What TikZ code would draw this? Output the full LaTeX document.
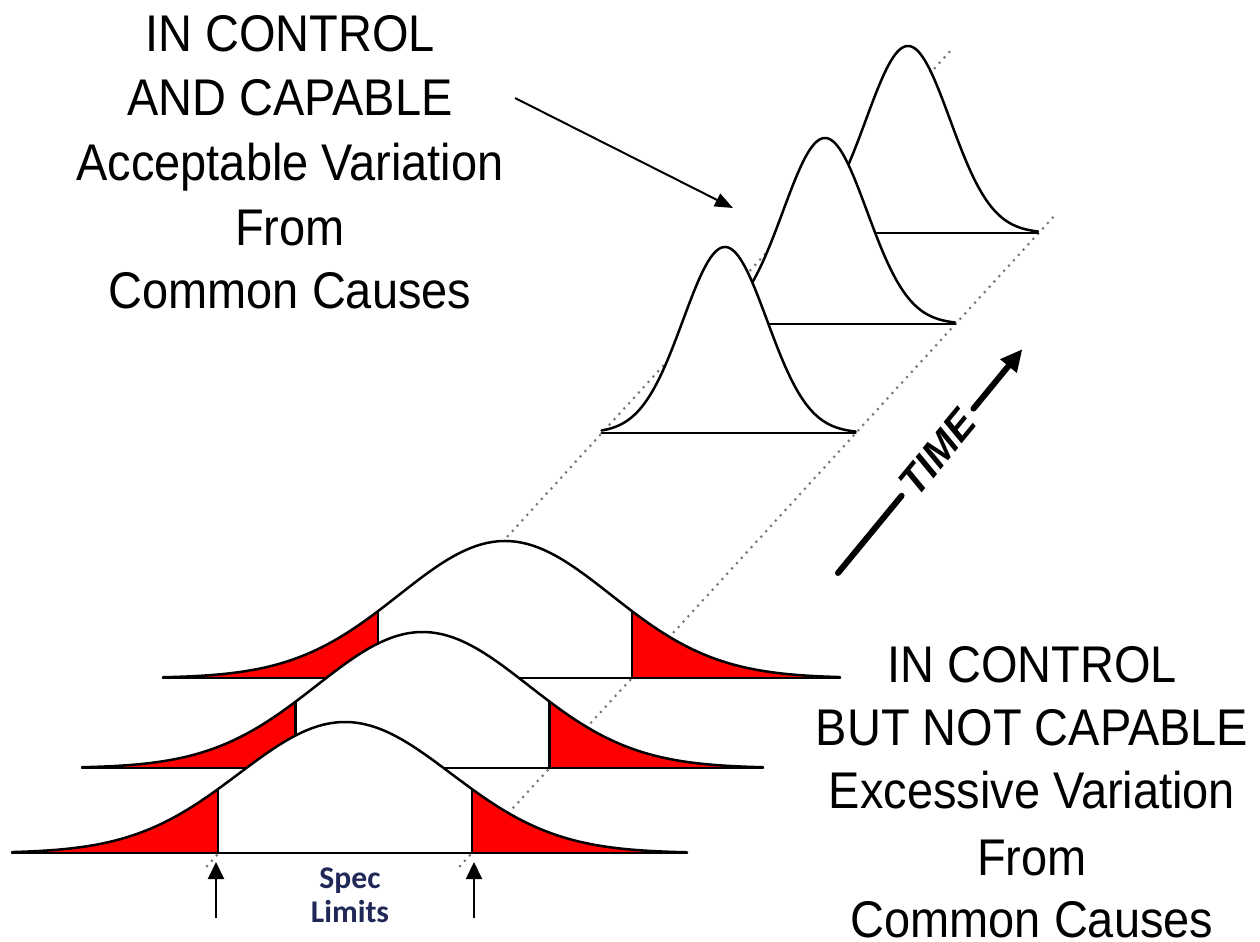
\documentclass[tikz,border=0pt]{standalone}
\usepackage{fontspec}
\setmainfont{Liberation Sans}
\newfontfamily\capfont[FakeStretch=0.91]{Liberation Sans}
\newfontfamily\specfont{Carlito}
\usetikzlibrary{arrows.meta}

\definecolor{tailred}{RGB}{255,0,0}
\definecolor{specblue}{RGB}{32,40,88}
\definecolor{dotgray}{RGB}{120,120,120}

% Gaussian hump: t = position, c = centre, b = baseline, h = height, s = sigma
\tikzset{declare function={bell(\t,\c,\b,\h,\s)=\b-\h*exp(-0.5*((\t-\c)/\s)^2);}}

% white body of a hump (hides what lies behind it)
\newcommand\humpbody[6]{%
  \fill[white] (#5,#2) -- plot[samples=120,domain=#5:#6] (\x,{bell(\x,#1,#2,#3,#4)}) -- (#6,#2) -- cycle;}
% red tails outside the spec limits #7 and #8
\newcommand\humptails[8]{%
  \fill[tailred] (#5,#2) -- plot[samples=80,domain=#5:#7] (\x,{bell(\x,#1,#2,#3,#4)}) -- (#7,#2) -- cycle;
  \fill[tailred] (#8,#2) -- plot[samples=80,domain=#8:#6] (\x,{bell(\x,#1,#2,#3,#4)}) -- (#6,#2) -- cycle;
  \draw[outline] (#7,#2) -- (#7,{bell(#7,#1,#2,#3,#4)});
  \draw[outline] (#8,#2) -- (#8,{bell(#8,#1,#2,#3,#4)});}
% outline and baseline of a hump
\newcommand\humpline[6]{%
  \draw[outline] plot[samples=120,domain=#5:#6] (\x,{bell(\x,#1,#2,#3,#4)});
  \draw[outline] (#5,#2) -- (#6,#2);}

\begin{document}
\begin{tikzpicture}[x=0.5pt,y=-0.5pt,
  outline/.style={line width=1.25pt,line join=round,line cap=round},
  guide/.style={draw=dotgray,line width=1.5pt,line cap=round,dash pattern=on 0pt off 3.6pt},
  caption/.style={font=\capfont\fontsize{25.8}{32}\selectfont,anchor=base,inner sep=0pt,text depth=0pt},
  speclabel/.style={font=\specfont\bfseries\fontsize{15.8}{17}\selectfont,text=specblue,anchor=base,inner sep=0pt},
  pointer/.style={line width=1pt,-{Triangle[length=9pt,width=7pt]}},
  specarrow/.style={line width=1pt,-{Triangle[length=8.5pt,width=8pt]}},
  timeline/.style={line width=3pt,line cap=round},
  timearrow/.style={line width=3pt,line cap=round,-{Triangle[length=11pt,width=10pt]}}]

\useasboundingbox (0,0) rectangle (1260,942);
\fill[white] (0,0) rectangle (1260,942);

% guide lines through the spec limits
\coordinate (gl0) at (207,866);
\coordinate (gl1) at (953,48);
\coordinate (gr0) at (460,866);
\coordinate (gr1) at (1057,213);
\draw[guide] (gl0) -- (gl1);
\draw[guide] (gr0) -- (gr1);

% narrow distributions, back to front
\humpbody{908}{233}{187}{42}{784}{1038}
\humpline{908}{233}{187}{42}{784}{1038}
\humpbody{825}{324}{186}{42}{701}{955}
\humpline{825}{324}{186}{42}{701}{955}
\humpbody{725}{433}{186}{42}{601.6}{855.6}
\humpline{725}{433}{186}{42}{601.6}{855.6}

% wide distributions, back to front
\humpbody{505}{678}{137}{106}{163}{840}
\humptails{505}{678}{137}{106}{163}{840}{377.8}{631.8}
\humpline{505}{678}{137}{106}{163}{840}
\humpbody{422.6}{768}{136}{106}{82}{763}
\humptails{422.6}{768}{136}{106}{82}{763}{295.6}{549.6}
\humpline{422.6}{768}{136}{106}{82}{763}
\humpbody{345}{853}{131}{106}{12}{687}
\humptails{345}{853}{131}{106}{12}{687}{218}{472}
\humpline{345}{853}{131}{106}{12}{687}

% spec limit arrows and label
\coordinate (sla) at (216,918);
\coordinate (slb) at (216,862);
\coordinate (sra) at (474,918);
\coordinate (srb) at (474,862);
\draw[specarrow] (sla) -- (slb);
\draw[specarrow] (sra) -- (srb);
\node[speclabel] (spec1) at (350,888) {Spec};
\node[speclabel] (spec2) at (350,922) {Limits};

% time axis
\coordinate (ta0) at (838,573);
\coordinate (ta1) at (901.6,495.8);
\coordinate (ta2) at (973.5,408.6);
\coordinate (ta3) at (1022.4,349.1);
\draw[timeline] (ta0) -- (ta1);
\draw[timearrow] (ta2) -- (ta3);
\node[rotate=50.5,inner sep=0pt,font=\bfseries\itshape\fontsize{20}{24}\selectfont] (timelbl) at (937.5,452.5) {TIME};

% captions
\node[caption] (cap1a) at (290,52) {IN CONTROL};
\node[caption] (cap1b) at (290,115) {AND CAPABLE};
\node[caption] (cap1c) at (290,180) {Acceptable Variation};
\node[caption] (cap1d) at (290,245) {From};
\node[caption] (cap1e) at (290,308) {Common Causes};

\node[caption] (cap2a) at (1032,682) {IN CONTROL};
\node[caption] (cap2b) at (1032,745) {BUT NOT CAPABLE};
\node[caption] (cap2c) at (1032,808) {Excessive Variation};
\node[caption] (cap2d) at (1032,875) {From};
\node[caption] (cap2e) at (1032,937) {Common Causes};

% pointer from the upper caption
\coordinate (pa) at (515,98);
\coordinate (pb) at (733,208);
\draw[pointer] (pa) -- (pb);
\end{tikzpicture}
\end{document}
